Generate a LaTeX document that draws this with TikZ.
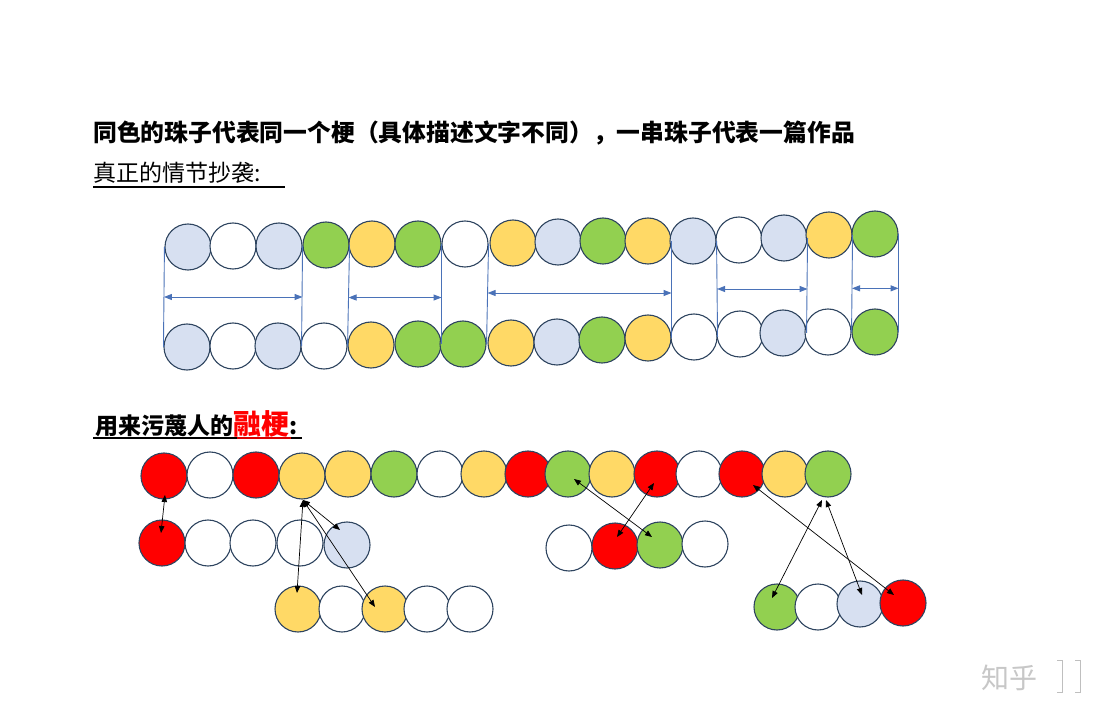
\documentclass[tikz,border=0pt]{standalone}
\usepackage{fontspec}
\setmainfont{Liberation Sans}
\newfontfamily\cjk{Noto Sans CJK SC}
\usetikzlibrary{arrows.meta,calc}
\definecolor{lb}{HTML}{D7E0F1}
\definecolor{yl}{HTML}{FFD966}
\definecolor{gr}{HTML}{92D050}
\definecolor{rd}{HTML}{FF0000}
\definecolor{wh}{HTML}{FFFFFF}
\definecolor{edge}{HTML}{2F4560}
\definecolor{guide}{HTML}{4A72B8}
\tikzset{
  bead/.style={circle, draw=edge, line width=1.1pt, minimum size=46pt, inner sep=0pt},
  guideline/.style={draw=guide, line width=0.9pt},
  span/.style={draw=guide, line width=0.9pt, {Triangle[length=8pt,width=6pt]}-{Triangle[length=8pt,width=6pt]}},
  link/.style={draw=black, line width=0.7pt, {Triangle[length=7pt,width=5.5pt]}-{Triangle[length=7pt,width=5.5pt]}},
  txt/.style={anchor=base west, inner sep=0pt},
  wmbar/.style={draw=black!25, line width=0.8pt}
}
\begin{document}
\begin{tikzpicture}[x=1pt,y=-1pt]
\useasboundingbox (0,0) rectangle (1114,719);
\fill[white] (0,0) rectangle (1114,719);

% texts
\node[txt, font=\cjk\bfseries\fontsize{23.8}{24}\selectfont] (title) at (93,142)
  {同色的珠子代表同一个梗（具体描述文字不同），一串珠子代表一篇作品};
\node[txt, font=\cjk\fontsize{23}{23}\selectfont] (sub1) at (93,182) {真正的情节抄袭:};
\draw[line width=1.6pt] ($(sub1.base west)+(0,5)$) -- ++(192,0);
\node[txt, font=\cjk\bfseries\fontsize{23}{23}\selectfont] (sub2) at (95,434)
  {用来污蔑人的\textcolor{rd}{\fontsize{28}{28}\selectfont 融梗}:};
\draw[line width=1.6pt] (93,438) -- (237,438);
\draw[line width=1.6pt, rd!85!black] (237,438) -- (291,438);
\draw[line width=1.6pt] (291,438) -- (302,438);

% top strings
\foreach \x/\y/\c [count=\i] in {188/247/lb,233/246/wh,279/246/lb,326/245/gr,372/244/yl,418/244/gr,465/244/wh,513/243/yl,558/242/lb,603/241/gr,648/241/yl,693/241/lb,739/240/wh,784/238/lb,829/235/yl,875/234/gr}
  \node[bead, fill=\c] (t\i) at (\x,\y) {};
\foreach \x/\y/\c [count=\i] in {187/347/lb,233/346/wh,278/346/lb,324/346/wh,371/345/yl,418/344/gr,463/344/gr,511/343/yl,557/342/lb,602/340/gr,648/338/yl,694/337/wh,740/334/wh,783/333/lb,828/332/wh,875/332/gr}
  \node[bead, fill=\c] (b\i) at (\x,\y) {};

% guide lines
\draw[guideline] (t1.west) -- (b1.west);
\draw[guideline] (t3.east) -- (b3.east);
\draw[guideline] (t4.east) -- (b4.east);
\draw[guideline] (t6.east) -- (b6.east);
\draw[guideline] (t7.east) -- (b7.east);
\draw[guideline] (t11.east) -- (b11.east);
\draw[guideline] (t12.east) -- (b12.east);
\draw[guideline] (t14.east) -- (b14.east);
\draw[guideline] (t15.east) -- (b15.east);
\draw[guideline] (t16.east) -- (b16.east);

\coordinate (h1) at ($(t1.west)!0.5!(b1.west)$);
\coordinate (h2) at ($(t4.east)!0.52!(b4.east)$);
\coordinate (h3) at ($(t7.east)!0.49!(b7.east)$);
\coordinate (h4) at ($(t12.east)!0.5!(b12.east)$);
\coordinate (h5) at ($(t15.east)!0.55!(b15.east)$);
\draw[span] (h1) -- (h1 -| t3.east);
\draw[span] (h2) -- (h2 -| t6.east);
\draw[span] (h3) -- (h3 -| t11.east);
\draw[span] (h4) -- (h4 -| t14.east);
\draw[span] (h5) -- (h5 -| t16.east);

% bottom strings
\foreach \x/\y/\c [count=\i] in {164/476/rd,210/475/wh,256/475/rd,302/476/yl,348/474/yl,394/474/gr,440/474/wh,484/474/yl,528/474/rd,568/474/gr,612/474/yl,657/474/rd,699/474/wh,742/474/rd,785/474/yl,828/474/gr}
  \node[bead, fill=\c] (a\i) at (\x,\y) {};
\foreach \x/\y/\c [count=\i] in {162/543/rd,208/543/wh,253/543/wh,300/543/wh,347/545/lb}
  \node[bead, fill=\c] (p\i) at (\x,\y) {};
\foreach \x/\y/\c [count=\i] in {298/609/yl,342/609/wh,385/609/yl,427/609/wh,470/609/wh}
  \node[bead, fill=\c] (c\i) at (\x,\y) {};
\foreach \x/\y/\c [count=\i] in {569/548/wh,615/546/rd,660/545/gr,705/544/wh}
  \node[bead, fill=\c] (d\i) at (\x,\y) {};
\foreach \x/\y/\c [count=\i] in {777/607/gr,818/607/wh,860/604/lb,903/603/rd}
  \node[bead, fill=\c] (e\i) at (\x,\y) {};

% links
\draw[link] ($(a1)+(1,19)$) -- ($(p1)+(-1,-10)$);
\draw[link] ($(a4)+(1,24)$) -- ($(c1)+(-1,-16)$);
\draw[link] ($(a4)+(1,24)$) -- ($(p5)+(-7,-15)$);
\draw[link] ($(a4)+(1,24)$) -- ($(c3)+(-10,-2)$);
\draw[link] ($(a10)+(6,5)$) -- ($(d3)+(-8,-8)$);
\draw[link] ($(a12)+(-3,9)$) -- ($(d2)+(2,-9)$);
\draw[link] ($(a14)+(11,11)$) -- ($(e4)+(-9,-8)$);
\draw[link] ($(a16)+(-6,26)$) -- ($(e1)+(-5,-9)$);
\draw[link] ($(a16)+(-2,26)$) -- ($(e3)+(2,-9)$);

% watermark
\node[txt, font=\cjk\fontsize{28}{28}\selectfont, text=black!22] (wm) at (981,688) {知乎};
\draw[wmbar] (1057,660) -- (1062,660) -- (1062,692) -- (1057,692);
\draw[wmbar] (1075,660) -- (1080,660) -- (1080,692) -- (1075,692);
\end{tikzpicture}
\end{document}
